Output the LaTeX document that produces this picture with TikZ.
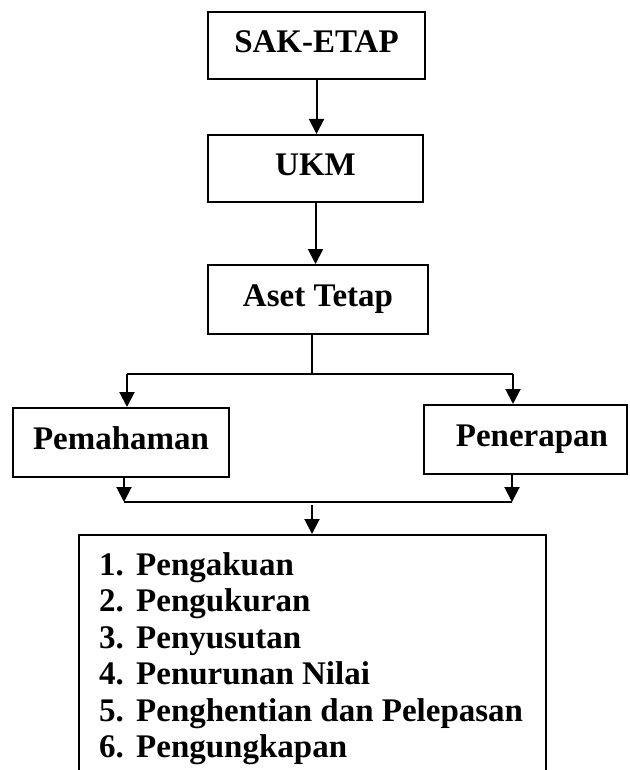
\documentclass[tikz,border=0pt]{standalone}
\usepackage{fontspec}
\setmainfont{Liberation Serif}
\usetikzlibrary{arrows.meta}
\begin{document}
\begin{tikzpicture}[x=1pt,y=-1pt,
  lbl/.style={font=\bfseries\fontsize{33}{37}\selectfont},
  box/.style={lbl,draw,line width=2pt,inner sep=0pt,text height=22pt,text depth=8pt},
  con/.style={line width=2pt},
  arr/.style={con,-{Triangle[length=15pt,width=15pt]}},
  itemtext/.style={lbl,anchor=base west,inner sep=0pt}]
\useasboundingbox (0,0) rectangle (629,770);
\clip (0,0) rectangle (629,770);

% boxes
\node[box,minimum width=217pt,minimum height=67pt] (sak) at (316.5,45.5) {SAK-ETAP};
\node[box,minimum width=215pt,minimum height=67pt] (ukm) at (315.5,168.5) {UKM};
\node[box,minimum width=220pt,minimum height=69pt] (aset) at (318,299.5) {Aset Tetap};
\node[box,minimum width=216pt,minimum height=69pt] (pem) at (121,442.5) {Pemahaman};
\node[box,minimum width=203pt,minimum height=69pt] (pen) at (525.5,439.5) {\hspace*{13pt}Penerapan};
\node[draw,line width=2pt,inner sep=0pt,minimum width=467pt,minimum height=300pt,anchor=north west] (list) at (78,534) {};

% list items
\node[itemtext] (i1) at (99,575) {\makebox[37pt][l]{1.}Pengakuan};
\node[itemtext] (i2) at (99,611.5) {\makebox[37pt][l]{2.}Pengukuran};
\node[itemtext] (i3) at (99,648) {\makebox[37pt][l]{3.}Penyusutan};
\node[itemtext] (i4) at (99,684.5) {\makebox[37pt][l]{4.}Penurunan Nilai};
\node[itemtext] (i5) at (99,721) {\makebox[37pt][l]{5.}Penghentian dan Pelepasan};
\node[itemtext] (i6) at (99,757.5) {\makebox[37pt][l]{6.}Pengungkapan};

% connectors
\draw[arr] (sak.south) -- (sak.south |- ukm.north);
\draw[arr] (ukm.south) -- (ukm.south |- aset.north);

\coordinate (s1) at (312,374);
\coordinate (l1) at (127,374);
\coordinate (r1) at (513,374);
\draw[con] (aset.south -| s1) -- (s1);
\draw[con] (l1) -- (r1);
\draw[arr] (l1) -- (l1 |- pem.north);
\draw[arr] (r1) -- (r1 |- pen.north);

\coordinate (l2) at (124,502);
\coordinate (r2) at (512,502);
\coordinate (m2) at (312,505);
\draw[arr] (l2 |- pem.south) -- (l2);
\draw[arr] (r2 |- pen.south) -- (r2);
\draw[con] (l2) -- (r2);
\draw[arr] (m2) -- (m2 |- list.north);
\end{tikzpicture}
\end{document}
